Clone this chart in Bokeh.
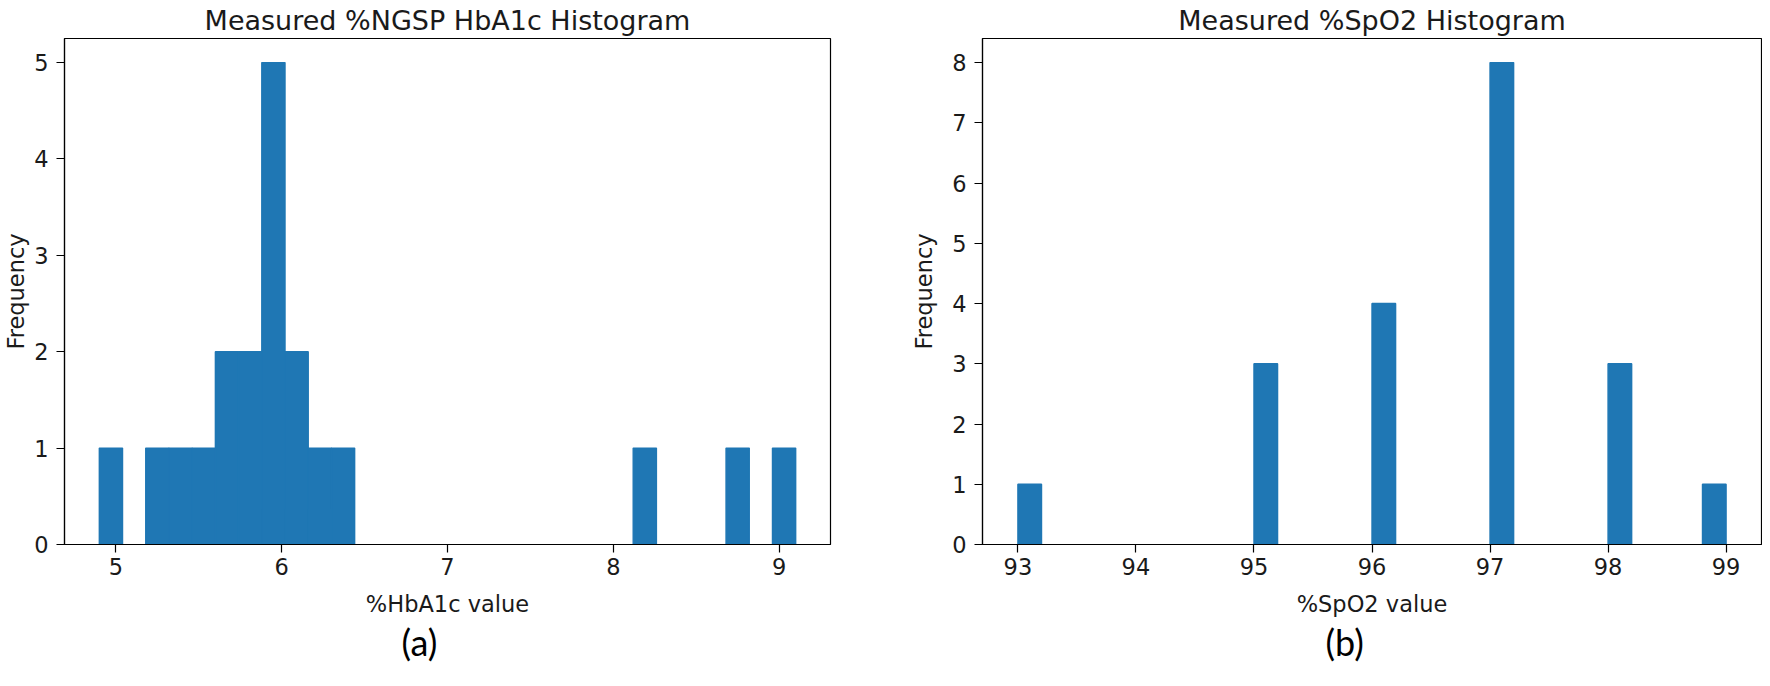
from bokeh.plotting import figure
from bokeh.layouts import row
from bokeh.models import Range1d, FixedTicker, Title, ColumnDataSource
from bokeh.embed import file_html
from bokeh.resources import INLINE

# ---------------- data ----------------
hba1c_bin_left = [4.90, 5.18, 5.32, 5.46, 5.60, 5.74, 5.88, 6.02, 6.16, 6.30, 8.12, 8.68, 8.96]
hba1c_count = [1, 1, 1, 1, 2, 2, 5, 2, 1, 1, 1, 1, 1]
hba1c_bin_width = 0.14
hba1c_xticks = [5, 6, 7, 8, 9]
hba1c_yticks = [0, 1, 2, 3, 4, 5]

spo2_bin_left = [93.0, 95.0, 96.0, 97.0, 98.0, 98.8]
spo2_count = [1, 3, 4, 8, 3, 1]
spo2_bin_width = 0.2
spo2_xticks = [93, 94, 95, 96, 97, 98, 99]
spo2_yticks = [0, 1, 2, 3, 4, 5, 6, 7, 8]

BAR = "#1f77b4"
FONT = "DejaVu Sans"
TXT = "#1a1a1a"


def make_hist(lefts, counts, width, xr, yr, xticks, yticks, title, xlabel, tag,
              fig_w, b_left, b_right, tag_offset, ylab_standoff):
    src = ColumnDataSource(dict(
        left=lefts,
        right=[l + width for l in lefts],
        top=counts,
        bottom=[0] * len(counts),
    ))
    p = figure(width=fig_w, height=678, output_backend="svg", toolbar_location=None,
               x_range=Range1d(*xr), y_range=Range1d(*yr),
               min_border_left=b_left, min_border_right=b_right,
               min_border_top=36, min_border_bottom=134)
    p.quad(left="left", right="right", top="top", bottom="bottom", source=src,
           fill_color=BAR, line_color=BAR, line_width=1.4)
    p.xgrid.visible = False
    p.ygrid.visible = False
    p.outline_line_color = "black"
    p.outline_line_width = 1.2
    p.outline_line_alpha = 1.0
    p.background_fill_color = "white"
    p.border_fill_color = "white"

    p.title.text = title
    p.title.text_font = FONT
    p.title.text_font_size = "27px"
    p.title.text_font_style = "normal"
    p.title.text_color = TXT
    p.title.align = "center"
    p.title.standoff = 5

    for ax in (p.xaxis[0], p.yaxis[0]):
        ax.axis_line_color = "black"
        ax.axis_line_width = 1.2
        ax.major_tick_line_color = "black"
        ax.major_tick_line_width = 1.2
        ax.major_tick_out = 8
        ax.major_tick_in = 0
        ax.minor_tick_line_color = None
        ax.major_label_text_font = FONT
        ax.major_label_text_font_size = "22.5px"
        ax.major_label_text_color = TXT
        ax.axis_label_text_font = FONT
        ax.axis_label_text_font_size = "22.5px"
        ax.axis_label_text_font_style = "normal"
        ax.axis_label_text_color = TXT

    p.xaxis.ticker = FixedTicker(ticks=xticks)
    p.yaxis.ticker = FixedTicker(ticks=yticks)
    p.xaxis.axis_label = xlabel
    p.yaxis.axis_label = "Frequency"
    p.xaxis.major_label_standoff = 5
    p.xaxis.axis_label_standoff = 13
    p.yaxis.major_label_standoff = 8
    p.yaxis.axis_label_standoff = ylab_standoff

    t = Title(text=tag, align="left", offset=tag_offset, text_font="Lato",
              text_font_size="36px", text_font_style="normal", text_color="black",
              standoff=0, vertical_align="top")
    p.add_layout(t, "below")
    return p


p1 = make_hist(hba1c_bin_left, hba1c_count, hba1c_bin_width, (4.69, 9.31), (0, 5.25),
               hba1c_xticks, hba1c_yticks, "Measured %NGSP HbA1c Histogram",
               "%HbA1c value", "(a)", 870, 57, 40, 337, 2)
p2 = make_hist(spo2_bin_left, spo2_count, spo2_bin_width, (92.7, 99.3), (0, 8.4),
               spo2_xticks, spo2_yticks, "Measured %SpO2 Histogram",
               "%SpO2 value", "(b)", 892, 112, 1, 343, 12)

layout = row(p1, p2, spacing=0)
open("out.html", "w").write(file_html(layout, INLINE))
